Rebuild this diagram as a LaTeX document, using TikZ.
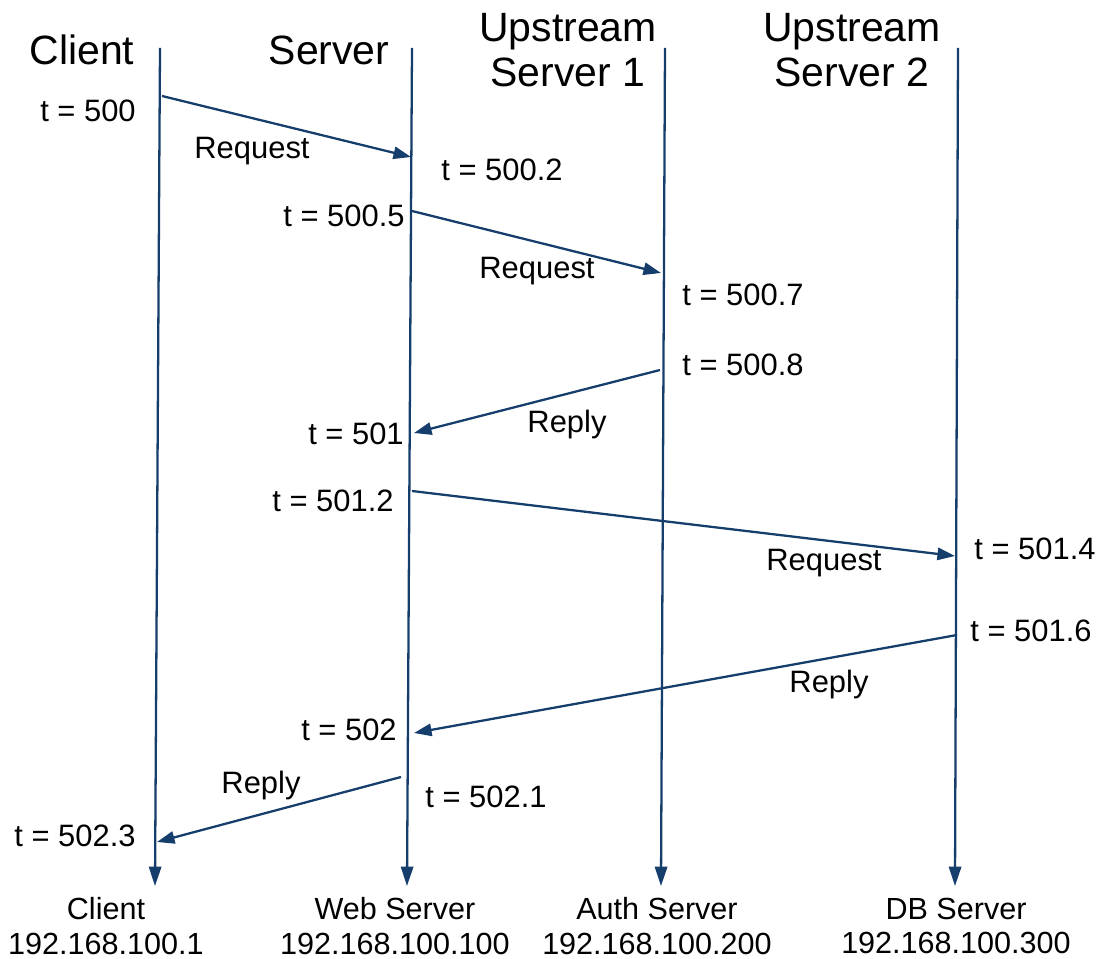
\documentclass[tikz,border=0pt]{standalone}
\usepackage{fontspec}
\setmainfont{Liberation Sans}
\usetikzlibrary{arrows.meta}
\definecolor{seqblue}{RGB}{22,62,108}
\begin{document}
\begin{tikzpicture}[x=0.02cm,y=-0.02cm,
  lifeline/.style={draw=seqblue,line width=1.3pt,-{Triangle[length=11pt,width=7pt]}},
  msg/.style={draw=seqblue,line width=1.3pt,-{Triangle[length=10pt,width=7pt]}},
  head/.style={font=\fontsize{23.3}{25.5}\selectfont,align=center,inner sep=0pt},
  lbl/.style={font=\fontsize{17.6}{20}\selectfont,inner sep=0pt},
  foot/.style={font=\fontsize{17.4}{19.8}\selectfont,align=center,inner sep=0pt}]
\useasboundingbox (0,0) rectangle (1100,959);
% lifelines
\coordinate (c0) at (160,48); \coordinate (c1) at (155,886);
\coordinate (s0) at (412,48); \coordinate (s1) at (407,886);
\coordinate (u0) at (665,48); \coordinate (u1) at (661,886);
\coordinate (d0) at (958,48); \coordinate (d1) at (955,886);
\draw[lifeline] (c0) -- (c1);
\draw[lifeline] (s0) -- (s1);
\draw[lifeline] (u0) -- (u1);
\draw[lifeline] (d0) -- (d1);
% headers
\node[head] (hc) at (82,50) {Client};
\node[head] (hs) at (329,50) {Server};
\node[head] (hu) at (568,50) {Upstream\\Server 1};
\node[head] (hd) at (852,50) {Upstream\\Server 2};
% message endpoints
\coordinate (m1a) at (162,96);  \coordinate (m1b) at (411,157);
\coordinate (m2a) at (412,211); \coordinate (m2b) at (661,273);
\coordinate (m3a) at (660,370); \coordinate (m3b) at (414,433);
\coordinate (m4a) at (412,491); \coordinate (m4b) at (955,556);
\coordinate (m5a) at (957,635); \coordinate (m5b) at (414,733);
\coordinate (m6a) at (401,777); \coordinate (m6b) at (157,842);
\draw[msg] (m1a) -- (m1b);
\draw[msg] (m2a) -- (m2b);
\draw[msg] (m3a) -- (m3b);
\draw[msg] (m4a) -- (m4b);
\draw[msg] (m5a) -- (m5b);
\draw[msg] (m6a) -- (m6b);
% labels
\node[lbl] (l1) at (252,151) {Request};
\node[lbl] (l2) at (537,271) {Request};
\node[lbl] (l3) at (567,425) {Reply};
\node[lbl] (l4) at (824,563) {Request};
\node[lbl] (l5) at (829,685) {Reply};
\node[lbl] (l6) at (261,786) {Reply};
% times
\node[lbl] (t1) at (88,111) {t = 500};
\node[lbl] (t2) at (502,170) {t = 500.2};
\node[lbl] (t3) at (344,216) {t = 500.5};
\node[lbl] (t4) at (743,295) {t = 500.7};
\node[lbl] (t5) at (743,365) {t = 500.8};
\node[lbl] (t6) at (356,434) {t = 501};
\node[lbl] (t7) at (333,501) {t = 501.2};
\node[lbl] (t8) at (1035,549) {t = 501.4};
\node[lbl] (t9) at (1031,631) {t = 501.6};
\node[lbl] (t10) at (349,730) {t = 502};
\node[lbl] (t11) at (486,797) {t = 502.1};
\node[lbl] (t12) at (75,836) {t = 502.3};
% footers
\node[foot] (fc) at (106,926) {Client\\192.168.100.1};
\node[foot] (fs) at (395,926) {Web Server\\192.168.100.100};
\node[foot] (fu) at (657,926) {Auth Server\\192.168.100.200};
\node[foot] (fd) at (956,926) {DB Server\\192.168.100.300};
\end{tikzpicture}
\end{document}
